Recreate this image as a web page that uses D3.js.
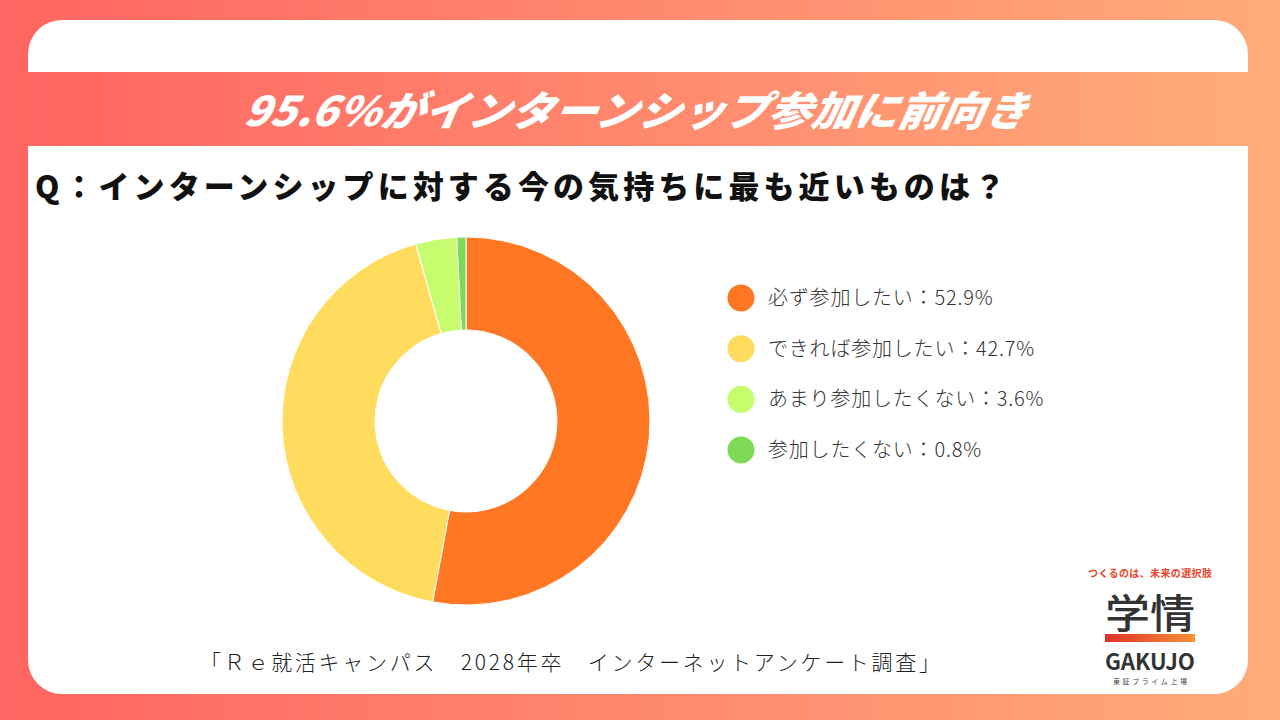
<!DOCTYPE html>
<html><head><meta charset="utf-8">
<script src="https://cdn.jsdelivr.net/npm/d3@7"></script>
<style>
html,body{margin:0;padding:0;overflow:hidden;background:#fff;}
text{font-family:"Noto Sans CJK JP","Noto Sans",sans-serif;}
</style></head>
<body><svg id="c" width="1280" height="720"></svg>
<script>
const title = "95.6%がインターンシップ参加に前向き";
const question = "Q：インターンシップに対する今の気持ちに最も近いものは？";
const categories = ["必ず参加したい","できれば参加したい","あまり参加したくない","参加したくない"];
const values = [52.9, 42.7, 3.6, 0.8];
const colors = ["#FF7722","#FFDC5E","#C6FC6E","#7ED957"];
const source = "「Ｒｅ就活キャンパス　2028年卒　インターネットアンケート調査」";

const svg = d3.select("#c");
const defs = svg.append("defs");
const g1 = defs.append("linearGradient").attr("id","bg").attr("x1","0").attr("x2","1").attr("y1","0").attr("y2","0");
g1.append("stop").attr("offset","0").attr("stop-color","#FF6562");
g1.append("stop").attr("offset","1").attr("stop-color","#FFAB79");
const g2 = defs.append("linearGradient").attr("id","bar").attr("x1","0").attr("x2","1");
g2.append("stop").attr("offset","0").attr("stop-color","#E3302B");
g2.append("stop").attr("offset","1").attr("stop-color","#F79235");

svg.append("rect").attr("width",1280).attr("height",720).attr("fill","url(#bg)");
svg.append("rect").attr("x",28).attr("y",20).attr("width",1220).attr("height",674).attr("rx",34).attr("fill","#fff");
// banner
svg.append("rect").attr("x",28).attr("y",72).attr("width",1220).attr("height",74).attr("fill","url(#bg)");
svg.append("text").attr("x",637).attr("y",126).attr("text-anchor","middle")
  .attr("fill","#fff").attr("font-size",41).attr("font-weight",900).attr("font-style","italic")
  .attr("textLength",784).attr("lengthAdjust","spacingAndGlyphs")
  .attr("transform","translate(637,110) skewX(-10) translate(-637,-110)")
  .text(title);

svg.append("text").attr("x",35).attr("y",198).attr("font-size",31).attr("font-weight",900).attr("fill","#111")
  .attr("textLength",970).attr("lengthAdjust","spacing").text(question);

// donut
const cx = 466, cy = 421, R = 184, r = 91;
const pie = d3.pie().sort(null).value(d=>d.v);
const arc = d3.arc().innerRadius(r).outerRadius(R);
const data = categories.map((c,i)=>({c, v:values[i], col:colors[i]}));
svg.append("g").attr("transform",`translate(${cx},${cy})`)
  .selectAll("path").data(pie(data)).join("path")
  .attr("d",arc).attr("fill",d=>d.data.col).attr("stroke","#fff").attr("stroke-width",1);

// legend
const ly = d3.scalePoint().domain(categories).range([298,450]);
const lg = svg.append("g");
lg.selectAll("circle").data(data).join("circle")
  .attr("cx",741).attr("cy",d=>ly(d.c)).attr("r",13.5).attr("fill",d=>d.col);
lg.selectAll("text").data(data).join("text")
  .attr("x",768).attr("y",d=>ly(d.c)+7).attr("font-size",20).attr("fill","#333").attr("font-weight",300)
  .attr("letter-spacing",0.8)
  .text(d=>`${d.c}：${d.v.toFixed(1)}%`);

// source
svg.append("text").attr("x",200).attr("y",670).attr("font-size",21).attr("font-weight",300).attr("fill","#222")
  .attr("textLength",740).attr("lengthAdjust","spacing").text(source);

// logo
svg.append("text").attr("x",1150).attr("y",577).attr("text-anchor","middle").attr("font-size",10).attr("font-weight",700)
  .attr("fill","#E8452C").attr("textLength",124).attr("lengthAdjust","spacing").text("つくるのは、未来の選択肢");
svg.append("text").attr("x",1150).attr("y",628).attr("text-anchor","middle").attr("font-size",40).attr("font-weight",500)
  .attr("fill","#333").attr("textLength",90).attr("lengthAdjust","spacingAndGlyphs").text("学情");
svg.append("rect").attr("x",1105).attr("y",634).attr("width",90).attr("height",8).attr("fill","url(#bar)");
svg.append("text").attr("x",1150).attr("y",670).attr("text-anchor","middle").attr("font-size",22).attr("font-weight",700)
  .attr("fill","#333").attr("textLength",90).attr("lengthAdjust","spacingAndGlyphs").attr("font-family","Roboto, sans-serif").text("GAKUJO");
svg.append("text").attr("x",1150).attr("y",684).attr("text-anchor","middle").attr("font-size",7).attr("fill","#444")
  .attr("textLength",74).attr("lengthAdjust","spacing").text("東証プライム上場");
</script></body></html>
